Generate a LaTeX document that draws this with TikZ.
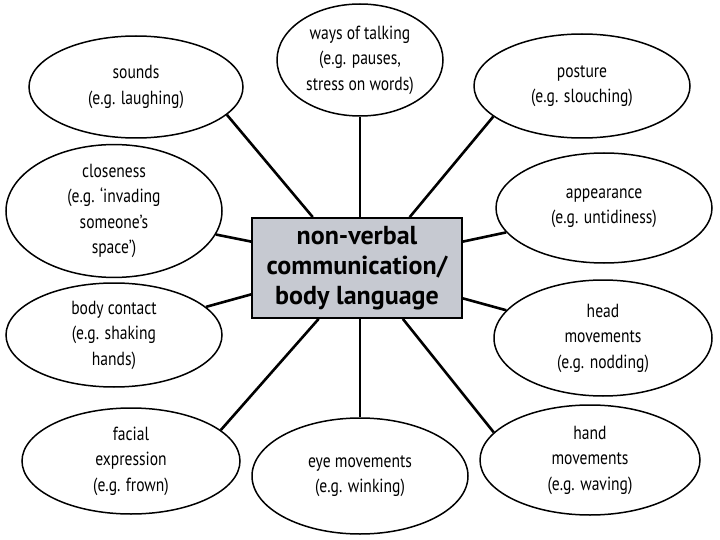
\documentclass[tikz,border=0pt]{standalone}
\usepackage{fontspec}
\setmainfont[FakeStretch=0.82]{PT Sans}
\newfontfamily\hubfont{PT Sans}
\usetikzlibrary{shapes.geometric}
\definecolor{hubgrey}{RGB}{198,201,209}
\tikzset{every path/.style={black}, bubble/.style={draw, line width=1.5pt, ellipse, fill=white, align=center, inner sep=0pt, font=\fontsize{19}{25.5}\selectfont}, hub/.style={draw, line width=1.8pt, fill=hubgrey, align=center, minimum width=210pt, minimum height=100pt, inner sep=0pt, font=\hubfont\bfseries\fontsize{26}{30}\selectfont}, spoke/.style={line width=2.6pt}}

\begin{document}
\begin{tikzpicture}[x=1pt,y=-1pt]
   \useasboundingbox (0,0) rectangle (720,540);
   \node[hub] (nvc) at (357,268) {non-verbal\\communication/\\body language};
   \node[bubble, minimum width=214pt, minimum height=102pt] (sounds)    at (136, 87) {sounds\\(e.g. laughing)};
   \node[bubble, minimum width=166pt, minimum height=112pt] (talking)   at (360, 60) {ways of talking\\(e.g. pauses,\\stress on words)};
   \node[bubble, minimum width=216pt, minimum height=104pt] (posture)   at (582, 86) {posture\\(e.g. slouching)};
   \node[bubble, minimum width=216pt, minimum height=112pt] (closeness) at (114,211) {closeness\\(e.g. `invading\\someone's\\space')};
   \node[bubble, minimum width=216pt, minimum height=110pt] (appear)    at (604,208) {appearance\\(e.g. untidiness)};
   \node[bubble, minimum width=216pt, minimum height=104pt] (contact)   at (114,335) {body contact\\(e.g. shaking\\hands)};
   \node[bubble, minimum width=218pt, minimum height=116pt] (head)      at (603,338) {head\\movements\\(e.g. nodding)};
   \node[bubble, minimum width=218pt, minimum height=106pt] (facial)    at (131,461) {facial\\expression\\(e.g. frown)};
   \node[bubble, minimum width=216pt, minimum height=116pt] (eye)       at (360,476) {eye movements\\(e.g. winking)};
   \node[bubble, minimum width=220pt, minimum height=110pt] (hand)      at (590,460) {hand\\movements\\(e.g. waving)};
   % spokes
   \draw[spoke] (nvc.131)  -- (sounds.-17);
   \draw[spoke] (nvc.north -| talking.south) -- (talking.south);
   \draw[spoke] (nvc.44)   -- (posture.-161);
   \draw[spoke] (nvc.166)  -- (closeness.-13);
   \draw[spoke] (nvc.14)   -- (appear.-166);
   \draw[spoke] (nvc.-166) -- (contact.17);
   \draw[spoke] (nvc.-16)  -- (head.164);
   \draw[spoke] (nvc.-127) -- (facial.19);
   \draw[spoke] (nvc.south -| eye.north) -- (eye.north);
   \draw[spoke] (nvc.-48)  -- (hand.164);
\end{tikzpicture}
\end{document}
